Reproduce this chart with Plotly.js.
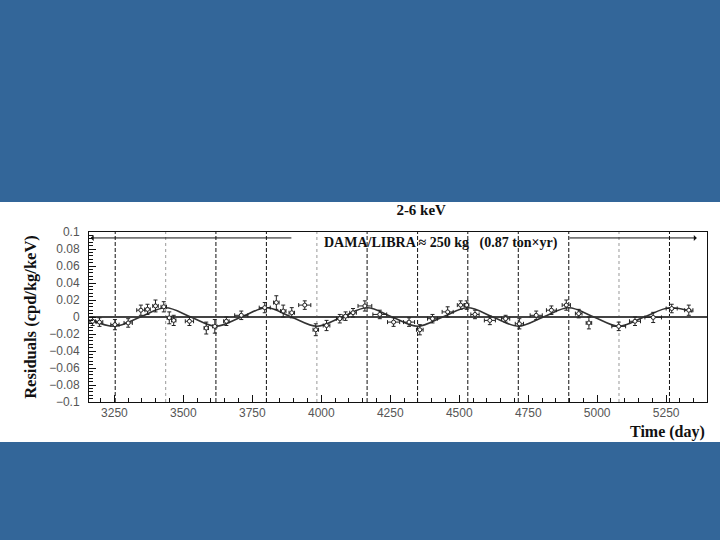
<!DOCTYPE html>
<html>
<head>
<meta charset="utf-8">
<script src="https://cdn.plot.ly/plotly-3.0.1.min.js"></script>
<style>
  html, body { margin:0; padding:0; background:#336699; width:720px; height:540px; overflow:hidden; }
  #panel { position:absolute; left:0; top:202px; width:720px; height:240px; background:#ffffff; }
  #chart { position:absolute; left:0; top:0; width:720px; height:540px; }
</style>
</head>
<body>
<div id="panel"></div>
<div id="chart"></div>
<script>
// ---- data ----
const days = [3171, 3196, 3252, 3300, 3346, 3370, 3399, 3429, 3449, 3465, 3522, 3583, 3614, 3656,
  3710, 3795, 3837, 3862, 3893, 3940, 3980, 4019, 4067, 4088, 4115, 4158, 4212, 4262, 4318, 4357,
  4403, 4458, 4505, 4527, 4557, 4611, 4668, 4718, 4779, 4834, 4888, 4933, 4970, 5078, 5137, 5203,
  5270, 5332];
const residuals = [-0.005, -0.006, -0.009, -0.007, 0.008, 0.009, 0.013, 0.012, -0.001, -0.004, -0.005,
  -0.013, -0.011, -0.005, 0.002, 0.011, 0.017, 0.007, 0.005, 0.014, -0.015, -0.010, -0.002, 0.001,
  0.005, 0.013, 0.003, -0.006, -0.006, -0.015, -0.002, 0.006, 0.014, 0.014, 0.003, -0.004, -0.002,
  -0.008, 0.002, 0.008, 0.014, 0.004, -0.007, -0.011, -0.005, -0.0005, 0.010, 0.008];
const dayErr = [10, 12, 15, 15, 15, 10, 10, 10, 8, 8, 15, 8, 8, 10, 24, 20, 10, 10, 10, 22, 10, 12,
  12, 10, 12, 25, 25, 22, 20, 12, 18, 20, 12, 8, 15, 20, 15, 15, 22, 18, 15, 12, 10, 25, 20, 30, 20, 15];
const residErr = [0.005, 0.005, 0.006, 0.005, 0.006, 0.006, 0.007, 0.006, 0.007, 0.006, 0.005, 0.007,
  0.008, 0.005, 0.005, 0.006, 0.008, 0.007, 0.006, 0.005, 0.007, 0.006, 0.005, 0.005, 0.005, 0.006,
  0.005, 0.005, 0.005, 0.006, 0.005, 0.006, 0.005, 0.005, 0.005, 0.005, 0.004, 0.006, 0.005, 0.005,
  0.006, 0.005, 0.007, 0.005, 0.005, 0.006, 0.005, 0.006];

// modulation curve: knots read at extrema / zero crossings
const curveDays = [3170, 3253, 3344, 3436, 3527, 3618, 3710, 3801, 3892, 3984, 4075, 4166, 4257,
  4349, 4440, 4531, 4622, 4714, 4805, 4897, 4988, 5079, 5170, 5262, 5345];
const curveVals = [-0.004, -0.0108, 0, 0.0108, 0, -0.0108, 0, 0.0108, 0, -0.0108, 0, 0.0108, 0,
  -0.0108, 0, 0.0108, 0, -0.0108, 0, 0.0108, 0, -0.0108, 0, 0.0108, 0.006];

// vertical phase markers (days)
const phaseDays = [3253, 3436, 3618, 3801, 3984, 4166, 4349, 4531, 4714, 4897, 5079, 5262];
const thinPhaseDays = [3436, 3984, 5079];

// arrow / label
const arrowLeft = [3897, 3164];   // tail, head
const arrowRight = [4894, 5361];  // tail, head
const arrowLevel = 0.093;
const labelDay = 4433, labelLevel = 0.087;
const labelText = '<b>DAMA/LIBRA ≈ 250 kg   (0.87 ton×yr)</b>';

const serif = 'Liberation Serif, Times New Roman, serif';
const sans = 'Liberation Sans, Arial, sans-serif';

const traces = [
  {
    x: curveDays, y: curveVals, type: 'scatter', mode: 'lines',
    line: {color: '#333', width: 1.6, shape: 'spline', smoothing: 1},
    hoverinfo: 'skip', showlegend: false
  },
  {
    x: days, y: residuals, type: 'scatter', mode: 'markers',
    marker: {symbol: 'circle', size: 4, color: 'white', line: {color: '#222', width: 1}},
    error_x: {type: 'data', array: dayErr, color: '#222', thickness: 1, width: 2},
    error_y: {type: 'data', array: residErr, color: '#222', thickness: 1, width: 2},
    showlegend: false
  }
];

const shapes = phaseDays.map(d => {
  const thin = thinPhaseDays.includes(d);
  return {
    type: 'line', xref: 'x', yref: 'paper', x0: d, x1: d, y0: 0, y1: 1, layer: 'below',
    line: thin ? {color: '#999', width: 1, dash: 'dot'} : {color: '#111', width: 1, dash: '4px,2px'}
  };
});

const annotations = [
  {x: arrowLeft[1], y: arrowLevel, ax: arrowLeft[0], ay: arrowLevel, xref: 'x', yref: 'y',
   axref: 'x', ayref: 'y', text: '', showarrow: true, arrowhead: 1, arrowsize: 1, arrowwidth: 1, arrowcolor: '#111'},
  {x: arrowRight[1], y: arrowLevel, ax: arrowRight[0], ay: arrowLevel, xref: 'x', yref: 'y',
   axref: 'x', ayref: 'y', text: '', showarrow: true, arrowhead: 1, arrowsize: 1, arrowwidth: 1, arrowcolor: '#111'},
  {x: labelDay, y: labelLevel, xref: 'x', yref: 'y', text: labelText, showarrow: false,
   font: {family: serif, size: 14, color: '#111'}, xanchor: 'center', yanchor: 'middle'},
  {x: 1, y: -0.176, xref: 'paper', yref: 'paper', text: '<b>Time (day)</b>', showarrow: false,
   xanchor: 'right', yanchor: 'middle', font: {family: serif, size: 16, color: '#111'}}
];

const layout = {
  width: 720, height: 540,
  margin: {l: 89, r: 13, t: 232, b: 138},
  paper_bgcolor: 'rgba(0,0,0,0)', plot_bgcolor: 'white',
  title: {text: '<b>2-6 keV</b>', x: 387/720, xanchor: 'center', xref: 'paper',
          y: 1 - 210/540, yanchor: 'middle', yref: 'container',
          font: {family: serif, size: 15, color: '#111'}},
  xaxis: {
    range: [3158, 5398], tick0: 3250, dtick: 250, ticks: 'inside', ticklen: 7, tickcolor: '#111',
    showline: true, linecolor: '#111', linewidth: 1, mirror: true, showgrid: false, zeroline: false,
    tickfont: {family: sans, size: 12, color: '#555'},
    minor: {tick0: 3250, dtick: 50, ticks: 'inside', ticklen: 4, tickcolor: '#111', showgrid: false}
  },
  yaxis: {
    range: [-0.1, 0.1], tick0: 0, dtick: 0.02, ticks: 'inside', ticklen: 7, tickcolor: '#111',
    showline: true, linecolor: '#111', linewidth: 1, mirror: true, showgrid: false,
    zeroline: true, zerolinecolor: '#444', zerolinewidth: 2,
    tickfont: {family: sans, size: 12, color: '#555'}, ticklabelstandoff: 6,
    minor: {tick0: 0, dtick: 0.004, ticks: 'inside', ticklen: 4, tickcolor: '#111', showgrid: false},
    title: {text: '<b>Residuals (cpd/kg/keV)</b>', standoff: 8,
            font: {family: serif, size: 16.5, color: '#111'}}
  },
  shapes: shapes,
  annotations: annotations
};

Plotly.newPlot('chart', traces, layout, {displayModeBar: false, staticPlot: true});
</script>
</body>
</html>
